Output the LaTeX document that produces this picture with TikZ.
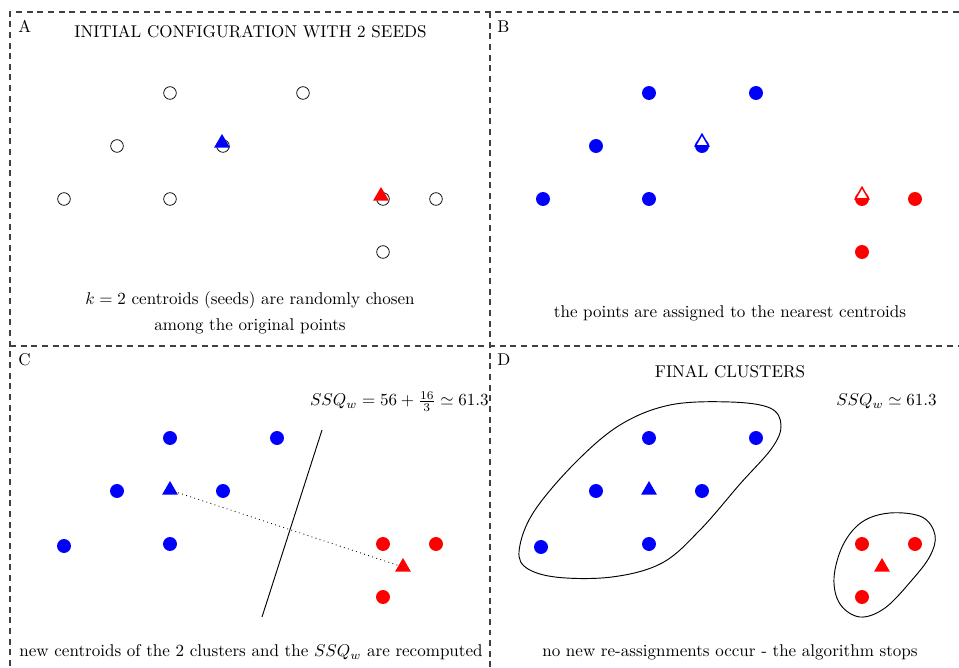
\documentclass[tikz,border=0pt]{standalone}
\usetikzlibrary{shapes.geometric}
\begin{document}
\begin{tikzpicture}[x=0.587pt,y=-0.587pt,
  frame/.style={black!75, line width=0.6pt, dash pattern=on 3.5pt off 2.75pt},
  hollow/.style={circle, draw=black, fill=white, line width=0.45pt, minimum size=7.4pt, inner sep=0pt},
  bdot/.style={circle, fill=blue, minimum size=8.2pt, inner sep=0pt},
  rdot/.style={circle, fill=red, minimum size=8.2pt, inner sep=0pt},
  btri/.style={regular polygon, regular polygon sides=3, fill=blue, minimum size=10.6pt, inner sep=0pt},
  rtri/.style={regular polygon, regular polygon sides=3, fill=red, minimum size=10.6pt, inner sep=0pt},
  bwtri/.style={regular polygon, regular polygon sides=3, fill=white, draw=blue, line width=0.9pt, minimum size=9pt, inner sep=0pt},
  rwtri/.style={regular polygon, regular polygon sides=3, fill=white, draw=red, line width=0.9pt, minimum size=9pt, inner sep=0pt},
  lbl/.style={anchor=base west, inner sep=0pt},
  txt/.style={anchor=base, inner sep=0pt},
  blob/.style={black, line width=0.55pt}
]
\useasboundingbox (0,0) rectangle (959,668);
% frame
\coordinate (f1) at (10,12); \coordinate (f2) at (959,12);
\coordinate (f3) at (10,668); \coordinate (f4) at (490,12);
\coordinate (f5) at (490,668); \coordinate (f6) at (10,346);
\coordinate (f7) at (959,346);
\draw[frame] (f2) -- (f1) -- (f3);
\draw[frame] (f4) -- (f5);
\draw[frame] (f6) -- (f7);

% panel labels
\node[lbl] (la) at (18,33) {A};
\node[lbl] (lb) at (497,33) {B};
\node[lbl] (lc) at (18,366) {C};
\node[lbl] (ld) at (497,366) {D};

% ---------- Panel A ----------
\node[txt] (ta) at (250.5,38) {INITIAL CONFIGURATION WITH 2 SEEDS};
\foreach \x/\y [count=\i] in {64/199,117/146,170/93,170/199,223/146,303/93,383/199,436/199,383/252}
  \node[hollow] (a\i) at (\x,\y) {};
\node[btri] (as1) at (222,143) {};
\node[rtri] (as2) at (381,196) {};
\node[txt] (ka) at (250,305) {$k=2$ centroids (seeds) are randomly chosen};
\node[txt] (kb) at (250,331) {among the original points};

% ---------- Panel B ----------
\foreach \x/\y [count=\i] in {543/199,596/146,649/93,649/199,702/146,756/93}
  \node[bdot] (b\i) at (\x,\y) {};
\node[rdot] (b7) at (862,199) {};
\node[rdot] (b8) at (915,199) {};
\node[rdot] (b9) at (862,252) {};
\node[bwtri] (bs1) at (702,142) {};
\node[rwtri] (bs2) at (862,195) {};
\node[txt] (tb) at (730,318) {the points are assigned to the nearest centroids};

% ---------- Panel C ----------
\foreach \x/\y [count=\i] in {64/546,117/491,170/438,170/544,223/491,277/438}
  \node[bdot] (c\i) at (\x,\y) {};
\node[rdot] (c7) at (383,544) {};
\node[rdot] (c8) at (436,544) {};
\node[rdot] (c9) at (383,597) {};
\node[btri] (cb) at (170,490) {};
\node[rtri] (cr) at (403,567) {};
\draw[dotted, line width=0.5pt] (cb.center) -- (cr.center);
\coordinate (bis1) at (262,617);
\coordinate (bis2) at (322,430);
\draw[line width=0.55pt] (bis1) -- (bis2);
\node[anchor=base east, inner sep=0pt] (ssqc) at (489,406) {$SSQ_w=56+\frac{16}{3}\simeq 61.3$};
\node[txt] (tc) at (251,657) {new centroids of the 2 clusters and the $SSQ_w$ are recomputed};

% ---------- Panel D ----------
\node[txt] (td) at (730,378) {FINAL CLUSTERS};
\node[anchor=base east, inner sep=0pt] (ssqd) at (937,406) {$SSQ_w\simeq 61.3$};
\draw[blob] plot[smooth cycle, tension=0.6] coordinates {
  (520,545) (535,510) (575,463) (620,425) (670,405) (730,402) (770,408) (781,425)
  (772,448) (740,484) (700,530) (662,563) (612,577) (555,577) (524,566)};
\draw[blob] plot[smooth cycle, tension=0.6] coordinates {
  (834,578) (843,545) (862,522) (890,513) (922,517) (935,535) (930,556)
  (912,580) (885,608) (860,617) (840,604)};
\foreach \x/\y [count=\i] in {541/547,596/491,649/438,649/544,702/491,756/438}
  \node[bdot] (d\i) at (\x,\y) {};
\node[rdot] (d7) at (862,544) {};
\node[rdot] (d8) at (915,544) {};
\node[rdot] (d9) at (862,597) {};
\node[btri] (db) at (649,490) {};
\node[rtri] (dr) at (882,567) {};
\node[txt] (tdd) at (730,657) {no new re-assignments occur - the algorithm stops};
\end{tikzpicture}
\end{document}
